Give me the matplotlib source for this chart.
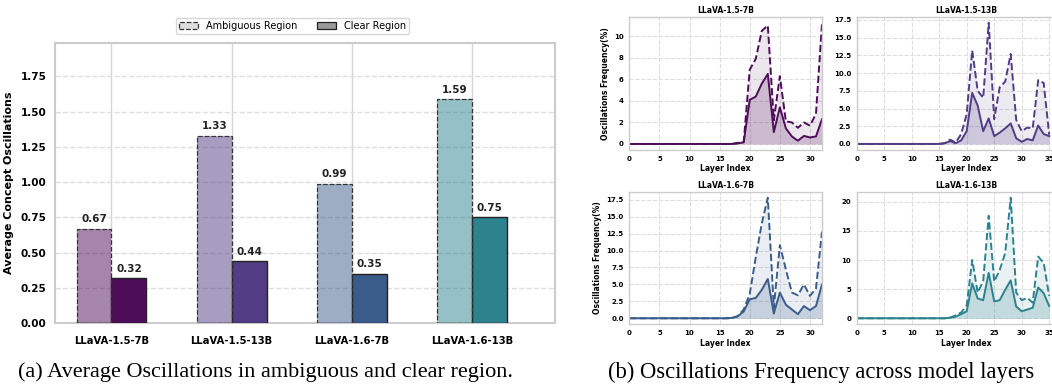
import matplotlib.pyplot as plt
from matplotlib.patches import Patch

# bar chart data
models = ['LLaVA-1.5-7B', 'LLaVA-1.5-13B', 'LLaVA-1.6-7B', 'LLaVA-1.6-13B']
ambiguous_avg = [0.67, 1.33, 0.99, 1.59]
clear_avg = [0.32, 0.44, 0.35, 0.75]
model_colors = ['#4e0d58', '#523c84', '#3a5c8b', '#2d828e']

# layer-wise oscillation frequency (%)
layers_7b = list(range(33))
layers_13b = list(range(36))

amb_15_7b = [0, 0, 0, 0, 0, 0, 0, 0, 0, 0, 0, 0, 0, 0, 0, 0, 0, 0, 0.1, 0.2,
             6.9, 7.9, 10.5, 11.0, 2.2, 6.3, 2.1, 2.0, 1.5, 2.0, 1.7, 2.8, 11.2]
clr_15_7b = [0, 0, 0, 0, 0, 0, 0, 0, 0, 0, 0, 0, 0, 0, 0, 0, 0, 0, 0.05, 0.15,
             4.1, 4.4, 5.6, 6.5, 1.1, 3.4, 1.45, 0.7, 0.3, 0.75, 0.6, 0.7, 2.3]

amb_15_13b = [0, 0, 0, 0, 0, 0, 0, 0, 0, 0, 0, 0, 0, 0, 0, 0, 0.1, 0.6, 0.2, 1.4,
              4.2, 13.2, 7.5, 6.5, 17.1, 3.5, 8.0, 8.8, 12.7, 3.4, 1.8, 2.3, 2.2, 9.0, 8.6, 1.3]
clr_15_13b = [0, 0, 0, 0, 0, 0, 0, 0, 0, 0, 0, 0, 0, 0, 0, 0, 0.1, 0.4, 0.1, 0.5,
              1.8, 7.2, 5.4, 1.8, 3.6, 1.1, 1.6, 2.2, 2.9, 0.8, 0.3, 0.7, 0.5, 2.6, 1.4, 1.1]

amb_16_7b = [0, 0, 0, 0, 0, 0, 0, 0, 0, 0, 0, 0, 0, 0, 0, 0, 0, 0, 0.3, 1.3,
             3.6, 9.0, 14.0, 17.8, 1.6, 10.8, 7.2, 3.8, 3.4, 5.0, 3.3, 4.4, 12.8]
clr_16_7b = [0, 0, 0, 0, 0, 0, 0, 0, 0, 0, 0, 0, 0, 0, 0, 0, 0, 0.05, 0.3, 1.0,
             2.8, 3.0, 4.2, 5.8, 0.7, 3.8, 2.0, 1.3, 0.6, 1.8, 1.2, 1.8, 5.0]

amb_16_13b = [0, 0, 0, 0, 0, 0, 0, 0, 0, 0, 0, 0, 0, 0, 0, 0, 0, 0.1, 0.5, 1.0,
              2.2, 10.0, 4.4, 6.4, 17.6, 6.3, 8.3, 11.2, 20.7, 4.4, 3.1, 3.5, 2.7, 10.6, 9.5, 3.8]
clr_16_13b = [0, 0, 0, 0, 0, 0, 0, 0, 0, 0, 0, 0, 0, 0, 0, 0, 0, 0.1, 0.3, 0.7,
              1.2, 6.0, 3.4, 3.1, 7.8, 2.9, 3.1, 4.9, 6.5, 2.0, 1.2, 1.5, 1.8, 5.3, 4.3, 2.1]

W, H = 1052, 389
fig = plt.figure(figsize=(W / 100, H / 100), dpi=100)
plt.rcParams['font.family'] = 'DejaVu Sans'


def px_axes(left, top, right, bottom):
    return fig.add_axes([left / W, 1 - bottom / H, (right - left) / W, (bottom - top) / H])


def style_spines(ax, lw=1.2):
    for s in ax.spines.values():
        s.set_color('#cccccc')
        s.set_linewidth(lw)


# ---------------- (a) bar chart ----------------
ax = px_axes(55, 43, 555, 323)
x = list(range(len(models)))
bw = 0.29
for i in x:
    c = model_colors[i]
    ax.bar(i - bw / 2, ambiguous_avg[i], bw, color=c, alpha=0.5, zorder=3)
    ax.bar(i - bw / 2, ambiguous_avg[i], bw, facecolor='none', edgecolor='#333333',
           linestyle='--', linewidth=0.9, zorder=4)
    ax.bar(i + bw / 2, clear_avg[i], bw, color=c, edgecolor='#222222', linewidth=1.0, zorder=3)
    ax.text(i - bw / 2, ambiguous_avg[i] + 0.03, f'{ambiguous_avg[i]:.2f}', ha='center',
            va='bottom', fontsize=7.5, fontweight='bold', color='#222222')
    ax.text(i + bw / 2, clear_avg[i] + 0.03, f'{clear_avg[i]:.2f}', ha='center',
            va='bottom', fontsize=7.5, fontweight='bold', color='#222222')

ax.set_xlim(-0.47, 3.69)
ax.set_ylim(0, max(ambiguous_avg) * 1.25)
ax.set_xticks(x)
ax.set_xticklabels(models, fontsize=7.2, fontweight='bold')
ax.set_yticks([0, 0.25, 0.5, 0.75, 1.0, 1.25, 1.5, 1.75])
ax.set_yticklabels([f'{v:.2f}' for v in ax.get_yticks()], fontsize=7.5, fontweight='bold')
ax.tick_params(axis='y', length=0, pad=6)
ax.tick_params(axis='x', length=0, pad=9)
ax.set_ylabel('Average Concept Oscillations', fontsize=8, fontweight='bold', labelpad=5)
ax.xaxis.grid(True, color='#d5d5d5', linewidth=1.0, zorder=0)
ax.yaxis.grid(True, color='#dddddd', linestyle='--', linewidth=1.0, zorder=0)
ax.set_axisbelow(True)
style_spines(ax, 1.5)

handles = [Patch(facecolor='#dddddd', edgecolor='#333333', linestyle='--', linewidth=0.9),
           Patch(facecolor='#999999', edgecolor='#222222', linewidth=0.9)]
leg = ax.legend(handles, ['Ambiguous Region', 'Clear Region'], loc='lower center',
                bbox_to_anchor=(0.475, 1.015), ncol=2, fontsize=7, frameon=True,
                handlelength=2.0, handleheight=0.8, columnspacing=2.0, borderpad=0.3)
leg.get_frame().set_edgecolor('#cccccc')
leg.get_frame().set_linewidth(1.0)

fig.text(266 / W, 1 - 372 / H, '(a) Average Oscillations in ambiguous and clear region.',
         ha='center', va='center', fontsize=16, family='Liberation Serif')

# ---------------- (b) layer-wise plots ----------------
panels = [
    ('LLaVA-1.5-7B', layers_7b, amb_15_7b, clr_15_7b, model_colors[0], (629.3, 17.3, 822, 150), 32, True),
    ('LLaVA-1.5-13B', layers_13b, amb_15_13b, clr_15_13b, model_colors[1], (856.7, 16.7, 1076.7, 150), 40, False),
    ('LLaVA-1.6-7B', layers_7b, amb_16_7b, clr_16_7b, model_colors[2], (629.3, 191.7, 822, 324.3), 32, True),
    ('LLaVA-1.6-13B', layers_13b, amb_16_13b, clr_16_13b, model_colors[3], (856.7, 191.7, 1076.7, 324.3), 40, False),
]
for title, layers, amb, clr, c, box, xmax, show_ylabel in panels:
    a = px_axes(*box)
    a.fill_between(layers, amb, color=c, alpha=0.1, linewidth=0)
    a.fill_between(layers, clr, color=c, alpha=0.2, linewidth=0)
    a.plot(layers, amb, color=c, linestyle='--', linewidth=1.4)
    a.plot(layers, clr, color=c, linewidth=1.4)
    a.set_xlim(0, xmax)
    a.set_xticks(range(0, xmax + 1, 5) if xmax == 40 else range(0, 31, 5))
    a.set_title(title, fontsize=5.5, fontweight='bold', pad=3)
    a.set_xlabel('Layer Index', fontsize=5.5, fontweight='bold', labelpad=2)
    if show_ylabel:
        a.set_ylabel('Oscillations Frequency(%)', fontsize=5.5, fontweight='bold', labelpad=3)
    a.tick_params(length=0, labelsize=5, pad=4)
    for lab in a.get_xticklabels() + a.get_yticklabels():
        lab.set_fontweight('bold')
    a.grid(True, linestyle='--', color='#dddddd', linewidth=0.8)
    a.set_axisbelow(True)
    style_spines(a, 1.0)

fig.text(821 / W, 1 - 372 / H, '(b) Oscillations Frequency across model layers',
         ha='center', va='center', fontsize=16.3, family='Liberation Serif')

fig.savefig('out.png', dpi=100, facecolor='white')
